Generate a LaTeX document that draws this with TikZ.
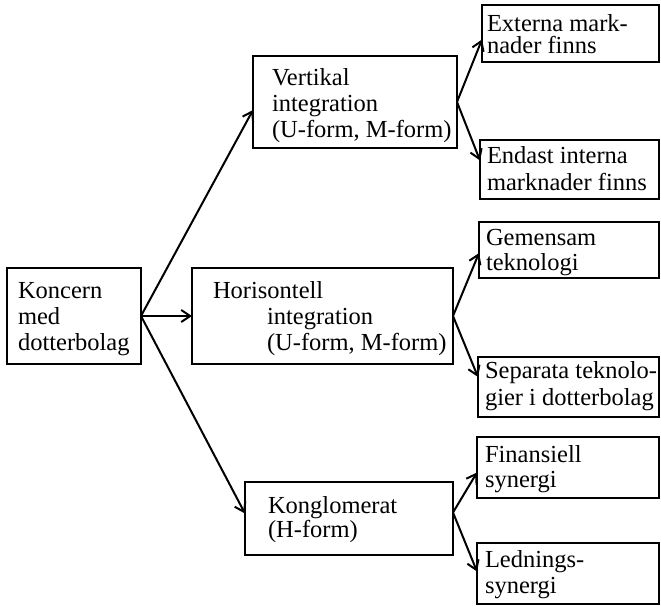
\documentclass[tikz,border=0pt]{standalone}
\usepackage{fontspec}
\setmainfont{Liberation Serif}
\usetikzlibrary{arrows.meta,calc}
\newcommand{\boxlines}[2]{\parbox[t]{300pt}{\baselineskip=#1pt\relax #2}}
\begin{document}
\begin{tikzpicture}[x=1pt,y=-1pt,
  box/.style={draw, line width=2.1pt, inner sep=0pt, outer sep=0pt, rectangle},
  lbl/.style={anchor=base west, inner sep=0pt, outer sep=0pt, font=\fontsize{24.5}{26}\selectfont},
  conn/.style={line width=2pt, -{Straight Barb[length=9pt,width=12pt,line width=2pt]}}]
\useasboundingbox (0,0) rectangle (661,605);
% boxes
\node[box, minimum width=134pt, minimum height=96pt] (k) at (74,316) {};
\node[box, minimum width=261pt, minimum height=96pt] (h) at (322.5,316) {};
\node[box, minimum width=204pt, minimum height=92pt] (v) at (355,102) {};
\node[box, minimum width=208pt, minimum height=73pt] (g) at (349,518.5) {};
\node[box, minimum width=177pt, minimum height=57pt] (e1) at (570.5,33.5) {};
\node[box, minimum width=179pt, minimum height=59pt] (e2) at (569.5,169.5) {};
\node[box, minimum width=180pt, minimum height=56pt] (t1) at (569,250) {};
\node[box, minimum width=181pt, minimum height=60pt] (t2) at (568.5,387) {};
\node[box, minimum width=182pt, minimum height=61pt] (s1) at (568,467.5) {};
\node[box, minimum width=182pt, minimum height=61pt] (s2) at (568,573.5) {};
% texts
\node[lbl] (kt) at (18,298) {\boxlines{26}{Koncern\\med\\dotterbolag}};
\node[lbl] (ht) at (213,298) {\boxlines{26}{Horisontell\\\hspace*{54pt}integration\\\hspace*{54pt}(U-form, M-form)}};
\node[lbl] (vt) at (272,85) {\boxlines{26}{Vertikal\\integration\\(U-form, M-form)}};
\node[lbl] (gt) at (268,513) {\boxlines{24.5}{Konglomerat\\(H-form)}};
\node[lbl] (e1t) at (487,31) {\boxlines{22.5}{Externa mark-\\nader finns}};
\node[lbl] (e2t) at (487,163) {\boxlines{27}{Endast interna\\marknader finns}};
\node[lbl] (t1t) at (486,245) {\boxlines{25}{Gemensam\\teknologi}};
\node[lbl] (t2t) at (485,378) {\boxlines{27}{Separata teknolo-\\gier i dotterbolag}};
\node[lbl] (s1t) at (485,462) {\boxlines{25}{Finansiell\\synergi}};
\node[lbl] (s2t) at (485,567) {\boxlines{26}{Lednings-\\synergi}};
% connectors
\draw[conn] (k.east) -- ($(v.west)+(0,8)$);
\draw[conn] (k.east) -- (h.west);
\draw[conn] (k.east) -- ($(g.west)+(0,-5)$);
\draw[conn] (v.east) -- ($(e1.west)+(0,6)$);
\draw[conn] (v.east) -- ($(e2.west)+(0,-9)$);
\draw[conn] (h.east) -- ($(t1.west)+(0,3)$);
\draw[conn] (h.east) -- ($(t2.west)+(0,-10)$);
\draw[conn] ($(g.east)+(0,-6)$) -- ($(s1.west)+(0,5)$);
\draw[conn] ($(g.east)+(0,-6)$) -- ($(s2.west)+(0,-2)$);
\end{tikzpicture}
\end{document}
